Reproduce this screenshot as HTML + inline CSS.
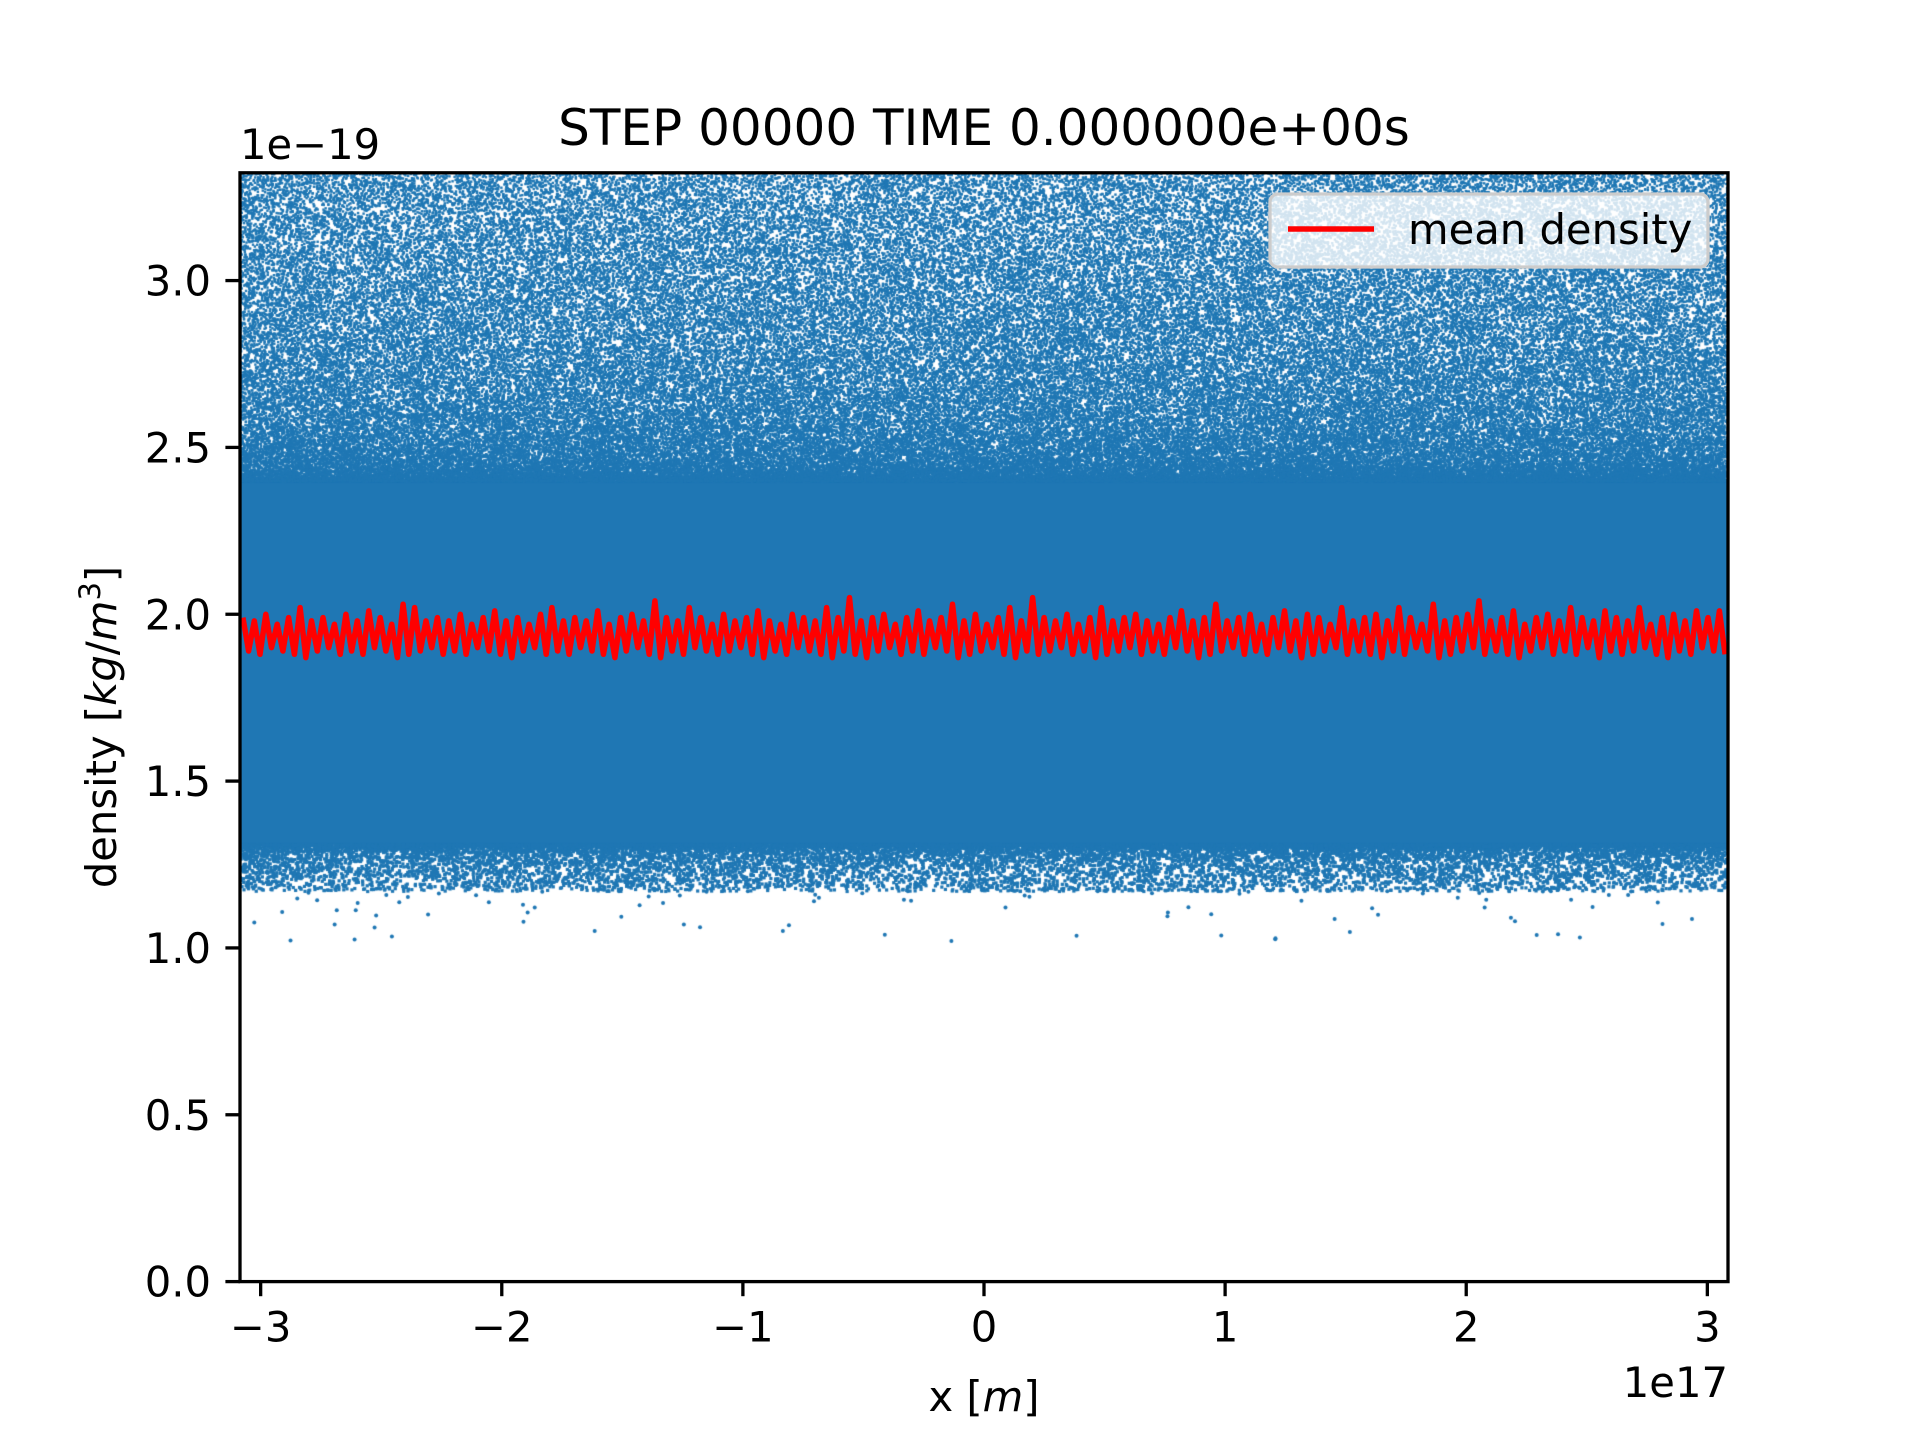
<!DOCTYPE html>
<html><head><meta charset="utf-8"><style>
html,body{margin:0;padding:0;background:#fff;width:1920px;height:1440px;overflow:hidden}
#cv{position:absolute;left:0;top:0}
svg{position:absolute;left:0;top:0}
text{font-family:"DejaVu Sans","Liberation Sans",sans-serif;fill:#000}
</style></head><body>
<canvas id="cv" width="1920" height="1440"></canvas>
<svg id="sv" width="1920" height="1440"></svg>
<script>
// ---- data ----
const xDomain = [-3.0857, 3.0857];
const yDomain = [0, 3.323];
const xTicks = [-3, -2, -1, 0, 1, 2, 3];
const xTickLabels = ["\u22123", "\u22122", "\u22121", "0", "1", "2", "3"];
const yTicks = [0, 0.5, 1.0, 1.5, 2.0, 2.5, 3.0];
const yTickLabels = ["0.0", "0.5", "1.0", "1.5", "2.0", "2.5", "3.0"];
const meanPeaks = [1.99,1.98,2.00,1.97,1.99,2.02,1.98,1.99,1.97,2.00,1.98,2.01,1.99,1.97,2.03,2.02,1.98,1.99,1.98,2.00,
1.97,1.99,2.01,1.98,1.99,1.97,2.00,2.02,1.98,1.99,1.98,2.01,1.97,1.99,2.00,1.98,2.04,1.99,1.98,2.02,
1.99,1.97,2.00,1.98,1.99,2.01,1.98,1.97,2.00,1.99,1.98,2.02,1.99,2.05,1.98,1.99,2.00,1.97,1.99,2.01,
1.98,1.99,2.03,1.98,2.00,1.97,1.99,2.02,1.98,2.05,1.99,1.98,2.00,1.97,1.99,2.02,1.98,1.99,2.00,1.98,
1.97,1.99,2.01,1.98,1.99,2.03,1.98,1.99,2.00,1.97,1.99,2.01,1.98,2.00,1.99,1.97,2.02,1.98,1.99,2.00,
1.98,2.02,1.99,1.97,2.03,1.98,1.99,2.00,2.04,1.98,1.99,2.01,1.97,1.99,2.00,1.98,2.02,1.99,1.98,2.01,
1.99,1.98,2.02,1.97,1.99,2.00,1.98,2.01,1.99,2.01];
const meanTroughs = [1.89,1.88,1.90,1.89,1.88,1.87,1.89,1.90,1.88,1.89,1.88,1.90,1.89,1.87,1.88,1.89,1.90,1.88,1.89,1.88,
1.90,1.89,1.88,1.87,1.89,1.90,1.88,1.89,1.88,1.90,1.89,1.88,1.87,1.89,1.90,1.88,1.87,1.89,1.88,1.90,
1.89,1.88,1.89,1.90,1.88,1.87,1.89,1.88,1.90,1.89,1.88,1.87,1.89,1.88,1.87,1.89,1.90,1.88,1.89,1.88,
1.90,1.89,1.87,1.88,1.89,1.90,1.88,1.87,1.89,1.88,1.89,1.90,1.88,1.89,1.87,1.88,1.89,1.90,1.88,1.89,
1.88,1.90,1.89,1.87,1.88,1.89,1.90,1.88,1.89,1.88,1.90,1.89,1.87,1.88,1.89,1.90,1.88,1.89,1.88,1.87,
1.89,1.88,1.90,1.89,1.87,1.88,1.89,1.90,1.88,1.89,1.88,1.87,1.89,1.90,1.88,1.89,1.88,1.90,1.87,1.89,
1.88,1.89,1.90,1.88,1.87,1.89,1.88,1.90,1.89,1.88];
// scatter cloud envelope (in 1e-19 kg/m^3)
const cloudSolidLow = 1.31;
const cloudSolidHigh = 2.40;
const cloudTop = 3.4;
const cloudLowTail = 1.17;

// ---- layout ----
const L=240,R=1728,T=172.8,B=1281.6;
const sx=v=>L+(v-xDomain[0])/(xDomain[1]-xDomain[0])*(R-L);
const sy=v=>B-(v-yDomain[0])/(yDomain[1]-yDomain[0])*(B-T);

// ---- scatter texture (canvas) ----
const cv=document.getElementById('cv'),c=cv.getContext('2d');
c.save();c.beginPath();c.rect(L,T,R-L,B-T);c.clip();
c.fillStyle='#1f77b4';
c.fillRect(L,sy(cloudSolidHigh),R-L,sy(cloudSolidLow)-sy(cloudSolidHigh));
let s=123456789;
const rnd=()=>{s^=s<<13;s^=s>>>17;s^=s<<5;return (s>>>0)/4294967296;};
for(let i=0;i<20000;i++){
  const x=L+rnd()*(R-L);
  const v=cloudSolidHigh+rnd()*(cloudTop-cloudSolidHigh);
  c.fillRect(x-1,sy(v)-1,2.4,2.4);
}
for(let i=0;i<125000;i++){
  const x=L+rnd()*(R-L);
  const f=Math.pow(rnd(),1.8);
  const v=cloudSolidHigh+f*(cloudTop-cloudSolidHigh);
  c.fillRect(x-1,sy(v)-1,2.4,2.4);
}
for(let i=0;i<15000;i++){
  const x=L+rnd()*(R-L);
  const f=Math.pow(rnd(),2.4);
  const v=cloudSolidLow-f*(cloudSolidLow-cloudLowTail);
  c.fillRect(x-1.3,sy(v)-1.3,3.2,3.2);
}
for(let i=0;i<90;i++){
  const x=L+rnd()*(R-L);
  const v=cloudLowTail-Math.pow(rnd(),1.5)*0.15;
  c.beginPath();c.arc(x,sy(v),2,0,7);c.fill();
}
c.restore();

// ---- svg ----
const NS='http://www.w3.org/2000/svg',sv=document.getElementById('sv');
function mk(t,a,txt){const e=document.createElementNS(NS,t);for(const k in a)e.setAttribute(k,a[k]);if(txt!=null)e.textContent=txt;sv.appendChild(e);return e;}

const pts=[];const n=meanPeaks.length;
for(let i=0;i<n;i++){
  const x0=xDomain[0]+(i+0.25)/n*(xDomain[1]-xDomain[0]);
  const x1=xDomain[0]+(i+0.75)/n*(xDomain[1]-xDomain[0]);
  pts.push(sx(x0).toFixed(1)+','+sy(meanPeaks[i]).toFixed(1));
  pts.push(sx(x1).toFixed(1)+','+sy(meanTroughs[i]).toFixed(1));
}
const ml=mk('polyline',{points:pts.join(' '),fill:'none',stroke:'#ff0000','stroke-width':5.5,'stroke-linejoin':'round'});



const fr=mk('rect',{x:L,y:T,width:R-L,height:B-T,fill:'none',stroke:'#000','stroke-width':3.3});



xTicks.forEach((v,i)=>{
  const x=sx(v);
  const t=mk('line',{x1:x,y1:B,x2:x,y2:B+14.6,stroke:'#000','stroke-width':3.3});
  
  
  const l=mk('text',{x:x,y:B+60,'text-anchor':'middle','font-size':41.7},xTickLabels[i]);
  
  
});
yTicks.forEach((v,i)=>{
  const y=sy(v);
  const t=mk('line',{x1:L-14.6,y1:y,x2:L,y2:y,stroke:'#000','stroke-width':3.3});
  
  
  const l=mk('text',{x:L-29,y:y+15,'text-anchor':'end','font-size':41.7},yTickLabels[i]);
  
  
});
</script>
<svg width="1920" height="1440" style="position:absolute;left:0;top:0">
<text x="984" y="145" text-anchor="middle" font-size="50">STEP 00000 TIME 0.000000e+00s</text>
<text x="240" y="159" font-size="41.7">1e−19</text>
<text x="1728" y="1397" text-anchor="end" font-size="41.7">1e17</text>
<text x="984" y="1411" text-anchor="middle" font-size="41.7">x [<tspan font-style="italic">m</tspan>]</text>
<text transform="translate(116,727) rotate(-90)" text-anchor="middle" font-size="41.7">density [<tspan font-style="italic">kg</tspan>/<tspan font-style="italic">m</tspan><tspan font-size="29" dy="-16">3</tspan><tspan dy="16">]</tspan></text>
<g>
<rect x="1270" y="194" width="438" height="73" rx="8" fill="#fff" fill-opacity="0.8" stroke="#cccccc" stroke-width="3.3"/>
<line x1="1288" y1="229" x2="1374" y2="229" stroke="#ff0000" stroke-width="5.5"/>
<text x="1408" y="244" font-size="41.7">mean density</text>
</g>
</svg>
</body></html>
